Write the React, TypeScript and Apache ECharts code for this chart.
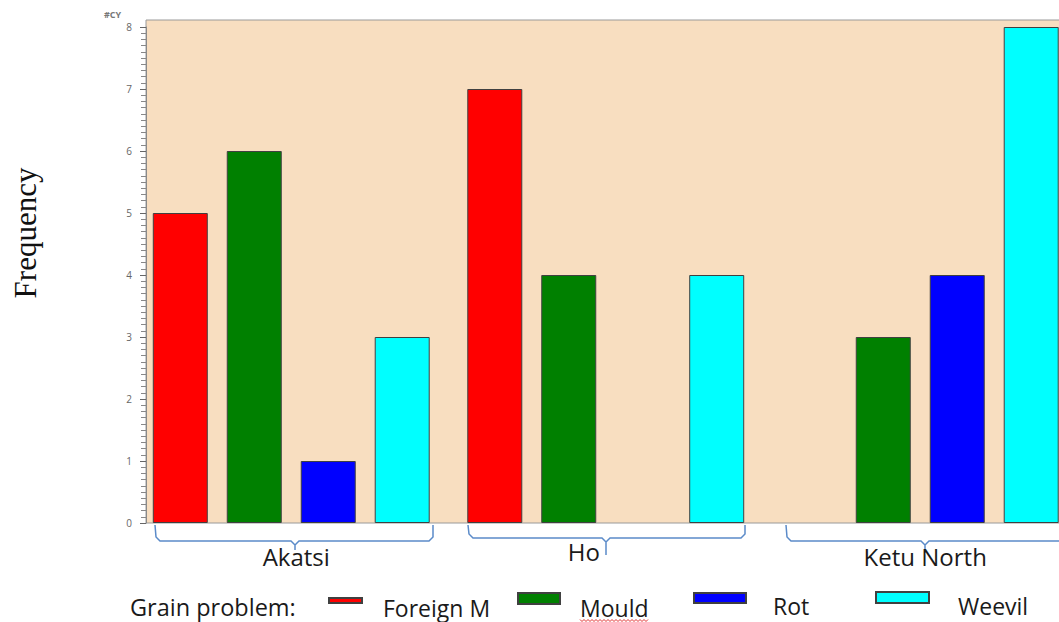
import React, { useEffect, useRef } from "react";
import * as echarts from "echarts";

const districts = ["Akatsi", "Ho", "Ketu North"];
const seriesNames = ["Foreign M", "Mould", "Rot", "Weevil"];
const foreignM = [5, 7, 0];
const mould = [6, 4, 3];
const rot = [1, 0, 4];
const weevil = [3, 4, 8];
const seriesColors = ["#FF0000", "#008000", "#0000FF", "#00FFFF"];
const yTicks = [0, 1, 2, 3, 4, 5, 6, 7, 8];

const SANS = "'Open Sans', 'Liberation Sans', sans-serif";

export default function App() {
  const ref = useRef<HTMLDivElement>(null);

  useEffect(() => {
    if (!ref.current) return;
    const chart = echarts.init(ref.current, undefined, { renderer: "svg" });
    const values = [foreignM, mould, rot, weevil];

    // icon legend geometry: [left, top, width, height]
    const iconGeom = [
      [328, 597, 33, 5],
      [517, 592, 42, 11],
      [693, 592, 52, 10],
      [875, 591, 53, 11],
    ];
    // text legend geometry: [textLeft, textCenterY]
    const textGeom = [
      [383, 608],
      [580, 608],
      [773, 606],
      [958, 606],
    ];

    const squiggle: number[][] = [];
    for (let i = 0; i <= 34; i++) {
      squiggle.push([580 + i * 2, i % 2 === 0 ? 619.5 : 621.5]);
    }

    const bracketColor = "#5B8BC9";

    const iconLegends = seriesNames.map((name, i) => {
      const g = iconGeom[i];
      return {
        data: [name],
        left: g[0],
        top: g[1],
        padding: 0,
        icon: "rect",
        itemWidth: g[2],
        itemHeight: g[3],
        selectedMode: false,
        formatter: () => "",
        textStyle: { fontSize: 1 },
      };
    });
    const textLegends = seriesNames.map((name, i) => {
      const g = textGeom[i];
      return {
        data: [name],
        left: g[0] - 5,
        top: g[1] - 12,
        padding: 0,
        icon: "none",
        itemWidth: 0,
        itemHeight: 0,
        selectedMode: false,
        textStyle: { fontFamily: SANS, fontSize: 23, color: "#1a1a1a" },
      };
    });

    chart.setOption({
      animation: false,
      grid: { left: 134, right: 12.5, top: 27, bottom: 99 },
      xAxis: {
        type: "category",
        data: districts,
        axisLine: { show: false },
        axisTick: { show: false },
        axisLabel: {
          margin: 16,
          color: "#1a1a1a",
          fontFamily: SANS,
          fontSize: 24,
          formatter: (v: string) => (v === "Ho" ? `{ho|${v}}` : `{a|${v}}`),
          rich: {
            a: { fontFamily: SANS, fontSize: 24, color: "#1a1a1a", padding: [5, 0, 0, 10] },
            ho: { fontFamily: SANS, fontSize: 24, color: "#1a1a1a", padding: [0, 44, 0, 0] },
          },
        },
      },
      yAxis: {
        type: "value",
        min: 0,
        max: yTicks[yTicks.length - 1],
        interval: 1,
        offset: -12,
        axisLine: { show: true, lineStyle: { color: "#8a8a8a", width: 1 } },
        axisTick: { show: true, length: 6, lineStyle: { color: "#666" } },
        minorTick: { show: true, splitNumber: 10, length: 5, lineStyle: { color: "#888" } },
        splitLine: { show: false },
        axisLabel: { color: "#666", fontSize: 10, margin: 14, fontFamily: SANS },
      },
      legend: [...iconLegends, ...textLegends],
      series: seriesNames.map((name, i) => ({
        name,
        type: "bar",
        data: values[i].map((v) => (v === 0 ? { value: v, itemStyle: { borderWidth: 0 } } : v)),
        barWidth: 55,
        barGap: "34.5%",
        z: 3,
        itemStyle: { color: seriesColors[i], borderColor: "#404040", borderWidth: 1 },
      })),
      graphic: [
        {
          type: "rect",
          z: 0,
          silent: true,
          shape: { x: 146, y: 20, width: 960, height: 503 },
          style: { fill: "#F8DEC0", stroke: "#9a9a9a", lineWidth: 1 },
        },
        {
          type: "text",
          x: 104,
          y: 14,
          style: {
            text: "#CY",
            fill: "#777",
            font: `bold 9px ${SANS}`,
            textAlign: "left",
            textVerticalAlign: "middle",
          },
        },
        {
          type: "text",
          x: 25,
          y: 233,
          rotation: Math.PI / 2,
          style: {
            text: "Frequency",
            fill: "#111",
            font: "31px 'Liberation Serif', 'DejaVu Serif', serif",
            textAlign: "center",
            textVerticalAlign: "middle",
          },
        },
        {
          type: "text",
          x: 130,
          y: 607,
          style: {
            text: "Grain problem:",
            fill: "#1a1a1a",
            font: `23.5px ${SANS}`,
            textAlign: "left",
            textVerticalAlign: "middle",
          },
        },
        {
          type: "polyline",
          silent: true,
          shape: {
            points: [
              [155, 525], [156, 537], [160, 541], [291, 541], [295, 545], [295, 550],
              [295, 545], [299, 541], [429, 541], [433, 537], [433, 525],
            ],
          },
          style: { stroke: bracketColor, lineWidth: 1.5, fill: null },
        },
        {
          type: "polyline",
          silent: true,
          shape: {
            points: [
              [468, 525], [469, 534], [473, 538], [602, 538], [606, 542], [606, 555],
              [606, 542], [610, 538], [741, 538], [745, 534], [745, 525],
            ],
          },
          style: { stroke: bracketColor, lineWidth: 1.5, fill: null },
        },
        {
          type: "polyline",
          silent: true,
          shape: {
            points: [
              [786, 525], [787, 537], [791, 541], [921, 541], [925, 545], [925, 553],
              [925, 545], [929, 541], [1090, 541],
            ],
          },
          style: { stroke: bracketColor, lineWidth: 1.5, fill: null },
        },
        {
          type: "polyline",
          silent: true,
          shape: { points: squiggle },
          style: { stroke: "#E03030", lineWidth: 1, fill: null },
        },
      ],
    });

    return () => chart.dispose();
  }, []);

  return (
    <div
      style={{
        position: "fixed",
        left: 0,
        top: 0,
        width: 1059,
        height: 622,
        overflow: "hidden",
        background: "#fff",
      }}
    >
      <div ref={ref} style={{ width: 1090, height: 622 }} />
    </div>
  );
}
